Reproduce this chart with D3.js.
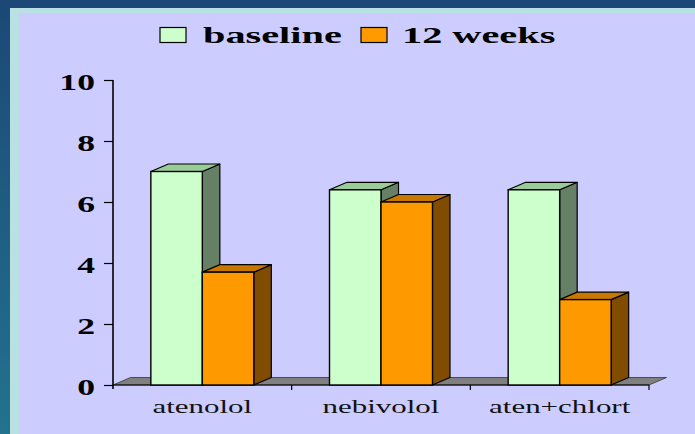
<!DOCTYPE html>
<html>
<head>
<meta charset="utf-8">
<script src="https://cdn.jsdelivr.net/npm/d3@7"></script>
<style>
  html, body { margin: 0; padding: 0; background: #1c4c79; }
  svg { display: block; }
</style>
</head>
<body>
<svg id="chart" width="695" height="434"></svg>
<script>
// Data
const categories = ["atenolol", "nebivolol", "aten+chlort"];
const seriesNames = ["baseline", "12 weeks"];
const baselineValues = [7.0, 6.4, 6.4];
const week12Values = [3.7, 6.0, 2.8];
const yTicks = [0, 2, 4, 6, 8, 10];

const seriesValues = [baselineValues, week12Values];

// Face colours per series: front, top, side
const palette = [
  { front: "#ccffcc", top: "#99cc99", side: "#668066" },
  { front: "#ff9900", top: "#c87800", side: "#804c00" }
];

const W = 695, H = 434;
const svg = d3.select("#chart");

// Backdrop: blue slide background, cyan frame, lavender plot panel
const defs = svg.append("defs");
const bg = defs.append("linearGradient").attr("id", "bgGrad")
  .attr("x1", 0).attr("y1", 0).attr("x2", 0).attr("y2", 1);
bg.append("stop").attr("offset", "0%").attr("stop-color", "#1b4876");
bg.append("stop").attr("offset", "100%").attr("stop-color", "#237290");
svg.append("rect").attr("width", W).attr("height", H).attr("fill", "url(#bgGrad)");
svg.append("rect").attr("x", 10).attr("y", 8).attr("width", W - 10).attr("height", H - 8)
  .attr("fill", "#b9e0e3");
svg.append("rect").attr("x", 19).attr("y", 13).attr("width", W - 19).attr("height", H - 13)
  .attr("fill", "#ccccff");

// Scales
const plot = { left: 113, right: 649, top: 80, bottom: 385 };
const depth = { dx: 17.5, dy: -7.5 };

const x = d3.scaleBand().domain(categories).range([plot.left, plot.right]).padding(0);
const x1 = d3.scaleBand().domain(seriesNames).range([0, x.bandwidth()])
  .paddingInner(0).paddingOuter(0.735);
const y = d3.scaleLinear().domain([0, 10]).range([plot.bottom, plot.top]);

const serif = "'Liberation Serif', 'Times New Roman', serif";

// Floor
const y0 = y(0);
svg.append("path")
  .attr("d", `M${plot.left},${y0} L${plot.left + depth.dx},${y0 + depth.dy} L${plot.right + depth.dx},${y0 + depth.dy} L${plot.right},${y0} Z`)
  .attr("fill", "#808080").attr("stroke", "#333").attr("stroke-width", 0.8);

// Y axis
const yAxis = svg.append("g")
  .attr("transform", `translate(${plot.left},0)`)
  .call(d3.axisLeft(y).tickValues(yTicks).tickSize(9).tickSizeOuter(0).tickFormat(d3.format("d")));
yAxis.select(".domain").attr("stroke", "#000").attr("stroke-width", 1.6)
  .attr("d", `M0,${plot.top}V${plot.bottom + 4}`);
yAxis.selectAll(".tick line").attr("stroke", "#000").attr("stroke-width", 1.2);
yAxis.selectAll(".tick text")
  .attr("x", 0).attr("dy", "0.4em")
  .attr("transform", "translate(-18,0) scale(1.55,1)")
  .attr("text-anchor", "end")
  .attr("fill", "#000")
  .style("font-family", serif).style("font-weight", "bold").style("font-size", "23px");

// X axis baseline and category ticks
const xAxis = svg.append("g");
xAxis.append("line")
  .attr("x1", plot.left).attr("x2", plot.right).attr("y1", y0).attr("y2", y0)
  .attr("stroke", "#000").attr("stroke-width", 1.2);
const boundaries = categories.map(c => x(c) + x.bandwidth());
xAxis.selectAll("line.tk").data(boundaries).join("line").attr("class", "tk")
  .attr("x1", d => d).attr("x2", d => d).attr("y1", y0).attr("y2", y0 + 5)
  .attr("stroke", "#000").attr("stroke-width", 1.2);
xAxis.selectAll("text").data(categories).join("text")
  .attr("transform", d => `translate(${x(d) + x.bandwidth() / 2},${y0 + 28}) scale(1.72,1)`)
  .attr("text-anchor", "middle")
  .attr("fill", "#111")
  .style("font-family", serif).style("font-size", "18px")
  .text(d => d);

// 3D bars
const bars = [];
categories.forEach((c, i) => {
  seriesNames.forEach((s, j) => {
    bars.push({ cat: c, series: s, j, value: seriesValues[j][i] });
  });
});

const barG = svg.append("g");
const groups = barG.selectAll("g.bar").data(bars).join("g").attr("class", "bar");
groups.each(function (d) {
  const g = d3.select(this);
  const x0 = x(d.cat) + x1(d.series);
  const w = x1.bandwidth();
  const yt = y(d.value);
  const col = palette[d.j];
  // side face
  g.append("path")
    .attr("d", `M${x0 + w},${y0} L${x0 + w + depth.dx},${y0 + depth.dy} L${x0 + w + depth.dx},${yt + depth.dy} L${x0 + w},${yt} Z`)
    .attr("fill", col.side).attr("stroke", "#000").attr("stroke-width", 1.2).attr("stroke-linejoin", "round");
  // top face
  g.append("path")
    .attr("d", `M${x0},${yt} L${x0 + depth.dx},${yt + depth.dy} L${x0 + w + depth.dx},${yt + depth.dy} L${x0 + w},${yt} Z`)
    .attr("fill", col.top).attr("stroke", "#000").attr("stroke-width", 1.2).attr("stroke-linejoin", "round");
  // front face
  g.append("rect")
    .attr("x", x0).attr("y", yt).attr("width", w).attr("height", y0 - yt)
    .attr("fill", col.front).attr("stroke", "#000").attr("stroke-width", 1.4);
});

// Legend
const legendItems = [
  { name: seriesNames[0], box: 160, text: 203 },
  { name: seriesNames[1], box: 361, text: 402 }
];
const legend = svg.append("g");
legendItems.forEach((it, j) => {
  legend.append("rect")
    .attr("x", it.box).attr("y", 27.5).attr("width", 26).attr("height", 15)
    .attr("fill", palette[j].front).attr("stroke", "#000").attr("stroke-width", 1.2);
  legend.append("text")
    .attr("transform", `translate(${it.text},43) scale(1.68,1)`)
    .attr("fill", "#000")
    .style("font-family", serif).style("font-weight", "bold").style("font-size", "24px")
    .text(it.name);
});
</script>
</body>
</html>
